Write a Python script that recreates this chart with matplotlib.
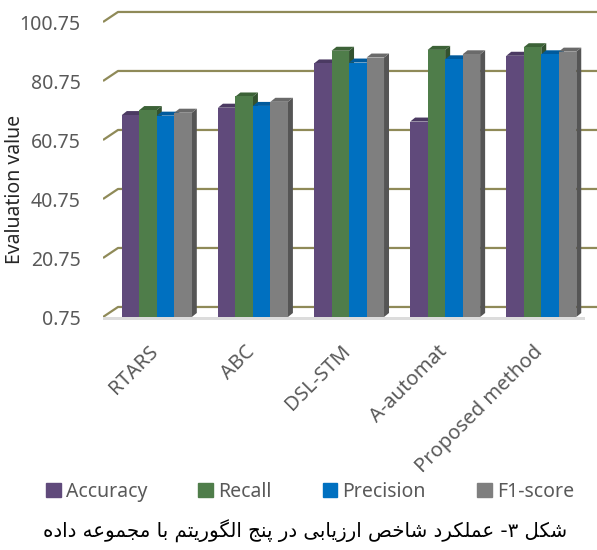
"""
Pseudo-3D grouped bar chart of evaluation metrics for five algorithms,
with a Persian caption below the legend.
"""

import matplotlib.pyplot as plt
from matplotlib.patches import Patch, Polygon
from matplotlib.transforms import ScaledTranslation

categories = ["RTARS", "ABC", "DSL-STM", "A-automat", "Proposed method"]
series_names = ["Accuracy", "Recall", "Precision", "F1-score"]
accuracy = [69.2, 71.7, 86.7, 67.0, 89.3]
recall = [70.9, 75.5, 91.0, 91.3, 92.2]
precision = [69.0, 72.3, 87.0, 88.1, 89.8]
f1_score = [70.0, 73.7, 88.7, 89.8, 90.7]
y_ticks = [0.75, 20.75, 40.75, 60.75, 80.75, 100.75]
caption = "شکل ۳- عملکرد شاخص ارزیابی در پنج الگوریتم با مجموعه داده"

series = [accuracy, recall, precision, f1_score]
colors = ["#604A7B", "#4F7D4A", "#0070C0", "#7F7F7F"]
top_colors = ["#4B3A62", "#3C6237", "#005A9C", "#6A6A6A"]
side_colors = ["#3E3052", "#33522F", "#004C84", "#555555"]
grid_color = "#8F8A58"
BASE = y_ticks[0]

# --- minimal Persian shaping (matplotlib has no complex text layout) ---
FORMS = {
    "ا": ("\uFE8D", "\uFE8E", None, None),
    "ب": ("\uFE8F", "\uFE90", "\uFE91", "\uFE92"),
    "پ": ("\uFB56", "\uFB57", "\uFB58", "\uFB59"),
    "ت": ("\uFE95", "\uFE96", "\uFE97", "\uFE98"),
    "ج": ("\uFE9D", "\uFE9E", "\uFE9F", "\uFEA0"),
    "خ": ("\uFEA5", "\uFEA6", "\uFEA7", "\uFEA8"),
    "د": ("\uFEA9", "\uFEAA", None, None),
    "ر": ("\uFEAD", "\uFEAE", None, None),
    "ز": ("\uFEAF", "\uFEB0", None, None),
    "ش": ("\uFEB5", "\uFEB6", "\uFEB7", "\uFEB8"),
    "ص": ("\uFEB9", "\uFEBA", "\uFEBB", "\uFEBC"),
    "ع": ("\uFEC9", "\uFECA", "\uFECB", "\uFECC"),
    "ک": ("\uFB8E", "\uFB8F", "\uFB90", "\uFB91"),
    "گ": ("\uFB92", "\uFB93", "\uFB94", "\uFB95"),
    "ل": ("\uFEDD", "\uFEDE", "\uFEDF", "\uFEE0"),
    "م": ("\uFEE1", "\uFEE2", "\uFEE3", "\uFEE4"),
    "ن": ("\uFEE5", "\uFEE6", "\uFEE7", "\uFEE8"),
    "ه": ("\uFEE9", "\uFEEA", "\uFEEB", "\uFEEC"),
    "و": ("\uFEED", "\uFEEE", None, None),
    "ی": ("\uFBFC", "\uFBFD", "\uFBFE", "\uFBFF"),
}


def dual(c):
    return c in FORMS and FORMS[c][2] is not None


def shape_rtl(text):
    out = []
    for i, c in enumerate(text):
        if c not in FORMS:
            out.append(c)
            continue
        prev = text[i - 1] if i > 0 else ""
        nxt = text[i + 1] if i + 1 < len(text) else ""
        join_prev = dual(prev)
        join_next = dual(c) and nxt in FORMS
        iso, fin, ini, med = FORMS[c]
        if join_prev and join_next:
            out.append(med)
        elif join_prev:
            out.append(fin)
        elif join_next:
            out.append(ini)
        else:
            out.append(iso)
    return "".join(out)[::-1]


plt.rcParams["font.family"] = ["Noto Sans", "DejaVu Sans"]

fig = plt.figure(figsize=(5.97, 5.50), dpi=100)
ax = fig.add_axes([103 / 597, 229.3 / 550, 494 / 597, 310.5 / 550])
ax.set_xlim(-0.56, 4.58)
ax.set_ylim(-0.5, 104.75)
for s in ax.spines.values():
    s.set_visible(False)

# back wall gridlines with diagonal front edge
gdx, gdy = 0.156, 3.4
x0, x1 = ax.get_xlim()
for t in y_ticks:
    ax.plot([x0, x0 + gdx, x1], [t, t + gdy, t + gdy], color=grid_color,
            lw=1.6, zorder=1, solid_capstyle="butt")

# floor edge
ax.add_patch(Polygon([(x0, BASE), (4.46, BASE), (4.46, BASE - 1.1), (x0, BASE - 1.1)],
                     closed=True, fc="#DCDCDC", ec="none", zorder=1.5))

# bars with top and side faces
width = 0.182
ddx, ddy = 0.052, 1.36
for j, (vals, c, tc, sc) in enumerate(zip(series, colors, top_colors, side_colors)):
    off = (j - 1.5) * width
    for i, v in enumerate(vals):
        xl = i + off - width / 2
        xr = xl + width
        z = 2 + j
        ax.add_patch(Polygon([(xr, BASE), (xr + ddx, BASE + ddy), (xr + ddx, v + ddy), (xr, v)],
                             closed=True, fc=sc, ec="none", zorder=z))
        ax.add_patch(Polygon([(xl, v), (xl + ddx, v + ddy), (xr + ddx, v + ddy), (xr, v)],
                             closed=True, fc=tc, ec="none", zorder=z))
        ax.bar(i + off, v - BASE, width, bottom=BASE, color=c, zorder=z + 0.5)

# axes text
ax.set_yticks(y_ticks)
ax.set_yticklabels([f"{t:.2f}" for t in y_ticks])
ax.tick_params(axis="y", length=0, pad=16, labelsize=14, labelcolor="#595959")
ax.set_xticks(range(len(categories)))
ax.set_xticklabels(categories, rotation=45, ha="right", rotation_mode="anchor")
ax.tick_params(axis="x", length=0, pad=15, labelsize=14.5, labelcolor="#595959")
for lab in ax.get_xticklabels():
    lab.set_transform(lab.get_transform() + ScaledTranslation(-6 / 72, 0, fig.dpi_scale_trans))

fig.text(15 / 597, 1 - 189 / 550, "Evaluation value", rotation=90,
         ha="center", va="center", fontsize=14, color="#262626")

handles = [Patch(color=c) for c in colors]
fig.legend(handles, series_names, loc="center", bbox_to_anchor=(310 / 597, 1 - 492 / 550),
           ncol=4, frameon=False, fontsize=14, labelcolor="#595959",
           handlelength=0.75, handleheight=0.75, handletextpad=0.25,
           columnspacing=2.65, borderpad=0)

fig.text(305 / 597, 1 - 531 / 550, shape_rtl(caption), ha="center", va="center",
         fontsize=14.2, color="black", family=["DejaVu Sans"])

plt.savefig("out.png", dpi=100)
